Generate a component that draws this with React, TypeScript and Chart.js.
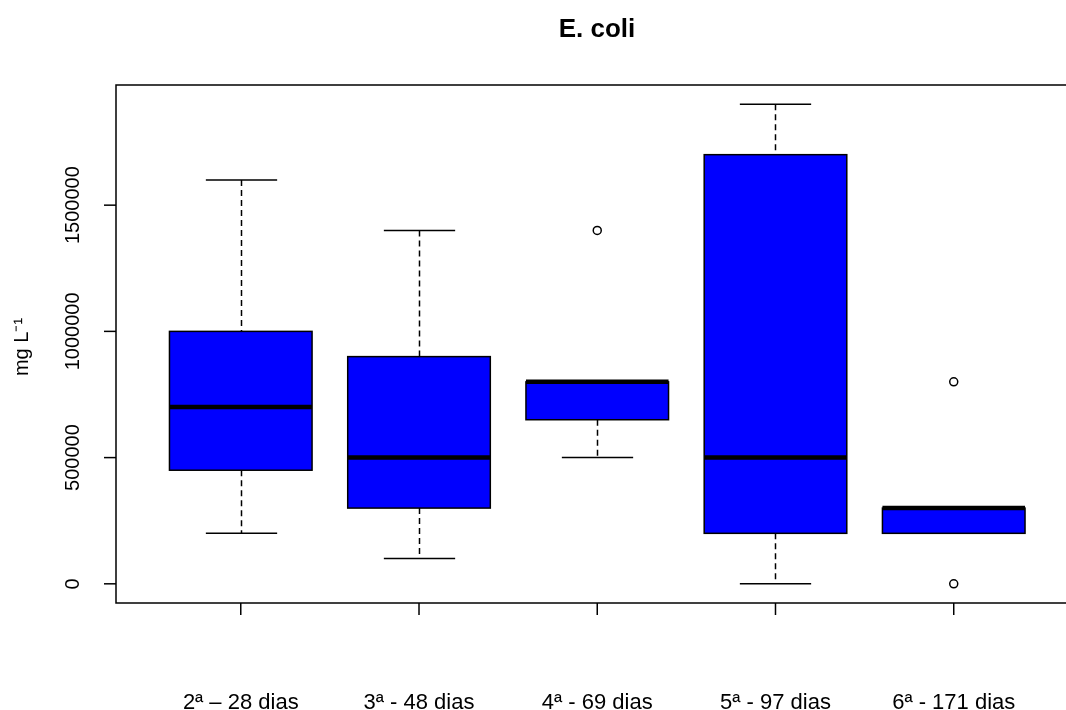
import React, { useEffect, useRef } from 'react';
import { Chart, registerables } from 'chart.js';

Chart.register(...registerables);

const FONT = '"Liberation Sans", Arial, Helvetica, sans-serif';

// ---- data ----
const categories = ['2ª – 28 dias', '3ª - 48 dias', '4ª - 69 dias', '5ª - 97 dias', '6ª - 171 dias'];
const whiskerLow = [200000, 100000, 500000, 0, 200000];
const q1 = [450000, 300000, 650000, 200000, 200000];
const median = [700000, 500000, 800000, 500000, 300000];
const q3 = [1000000, 900000, 800000, 1700000, 300000];
const whiskerHigh = [1600000, 1400000, 800000, 1900000, 300000];
const outlierGroup = [3, 5, 5];
const outlierValues = [1400000, 800000, 0];
const yTicks = [0, 500000, 1000000, 1500000];
const titleText = 'E. coli';
const yLabel = 'mg L⁻¹';

const rBoxPlugin = {
  id: 'rBoxParts',
  beforeDatasetsDraw(chart: any) {
    const { ctx, scales } = chart;
    const x = scales.x;
    const y = scales.y;
    ctx.save();
    ctx.strokeStyle = '#000';
    ctx.lineWidth = 1.5;
    categories.forEach((_, i) => {
      const cx = Math.round(x.getPixelForValue(i + 1)) + 0.5;
      const half = x.getPixelForValue(i + 1.2) - x.getPixelForValue(i + 1);
      ctx.setLineDash([6, 4]);
      ctx.beginPath();
      ctx.moveTo(cx, y.getPixelForValue(whiskerHigh[i]));
      ctx.lineTo(cx, y.getPixelForValue(q3[i]));
      ctx.moveTo(cx, y.getPixelForValue(q1[i]));
      ctx.lineTo(cx, y.getPixelForValue(whiskerLow[i]));
      ctx.stroke();
      ctx.setLineDash([]);
      ctx.beginPath();
      const yh = y.getPixelForValue(whiskerHigh[i]);
      const yl = y.getPixelForValue(whiskerLow[i]);
      ctx.moveTo(cx - half, yh);
      ctx.lineTo(cx + half, yh);
      ctx.moveTo(cx - half, yl);
      ctx.lineTo(cx + half, yl);
      ctx.stroke();
    });
    ctx.restore();
  },
  afterDatasetsDraw(chart: any) {
    const { ctx, scales } = chart;
    const y = scales.y;
    const meta = chart.getDatasetMeta(0);
    ctx.save();
    ctx.strokeStyle = '#000';
    meta.data.forEach((el: any, i: number) => {
      const l = el.x - el.width / 2;
      const r = el.x + el.width / 2;
      const t = Math.min(el.y, el.base);
      const b = Math.max(el.y, el.base);
      ctx.lineWidth = 1.5;
      ctx.strokeRect(l, t, r - l, b - t);
      const my = y.getPixelForValue(median[i]);
      ctx.lineWidth = 4.5;
      ctx.beginPath();
      ctx.moveTo(l, my);
      ctx.lineTo(r, my);
      ctx.stroke();
    });
    ctx.restore();
  },
  afterDraw(chart: any) {
    const { ctx, scales, chartArea } = chart;
    const x = scales.x;
    const y = scales.y;
    const { left, right, top, bottom } = chartArea;
    ctx.save();
    ctx.strokeStyle = '#000';
    ctx.lineWidth = 1.5;
    ctx.strokeRect(left, top, right - left, bottom - top);

    // y axis ticks + labels
    ctx.fillStyle = '#000';
    ctx.font = `20px ${FONT}`;
    yTicks.forEach((v) => {
      const py = y.getPixelForValue(v);
      ctx.beginPath();
      ctx.moveTo(left - 12, py);
      ctx.lineTo(left, py);
      ctx.stroke();
      ctx.save();
      ctx.translate(73, py);
      ctx.rotate(-Math.PI / 2);
      ctx.textAlign = 'center';
      ctx.textBaseline = 'middle';
      ctx.fillText(String(v), 0, 0);
      ctx.restore();
    });

    // x axis ticks + labels
    ctx.font = `22px ${FONT}`;
    ctx.textAlign = 'center';
    ctx.textBaseline = 'alphabetic';
    categories.forEach((c, i) => {
      const px = x.getPixelForValue(i + 1);
      ctx.beginPath();
      ctx.moveTo(px, bottom);
      ctx.lineTo(px, bottom + 12);
      ctx.stroke();
      ctx.fillText(c, px, 709);
    });

    // y label
    ctx.save();
    ctx.translate(22, 347);
    ctx.rotate(-Math.PI / 2);
    ctx.font = `20px ${FONT}`;
    ctx.textAlign = 'center';
    ctx.textBaseline = 'middle';
    ctx.fillText(yLabel, 0, 0);
    ctx.restore();

    // title
    ctx.font = `bold 26px ${FONT}`;
    ctx.textAlign = 'center';
    ctx.textBaseline = 'middle';
    ctx.fillText(titleText, 597, 30);
    ctx.restore();
  },
};

export default function App() {
  const ref = useRef<HTMLCanvasElement>(null);
  useEffect(() => {
    if (!ref.current) return;
    const chart = new Chart(ref.current, {
      type: 'bar',
      data: {
        datasets: [
          {
            type: 'bar',
            data: categories.map((_, i) => ({ x: i + 1, y: [q1[i], q3[i]] })) as any,
            backgroundColor: '#0000ff',
            borderWidth: 0,
            barPercentage: 0.8,
            categoryPercentage: 1,
          } as any,
          {
            type: 'scatter',
            data: outlierGroup.map((g, i) => ({ x: g, y: outlierValues[i] })),
            pointRadius: 4,
            pointBorderWidth: 1.5,
            pointBorderColor: '#000',
            pointBackgroundColor: 'rgba(0,0,0,0)',
            showLine: false,
          } as any,
        ],
      },
      options: {
        responsive: false,
        animation: false,
        events: [],
        layout: { padding: { left: 116, top: 85, right: 1, bottom: 107 } },
        plugins: {
          legend: { display: false },
          tooltip: { enabled: false },
          title: { display: false },
        },
        scales: {
          x: {
            type: 'linear',
            min: 0.3,
            max: 5.7,
            offset: false,
            display: false,
            ticks: { stepSize: 1, includeBounds: false },
          },
          y: {
            type: 'linear',
            min: -76000,
            max: 1976000,
            display: false,
          },
        },
      } as any,
      plugins: [rBoxPlugin],
    });
    return () => chart.destroy();
  }, []);

  return (
    <div style={{ position: 'fixed', left: 0, top: 0, width: 1066, height: 710, overflow: 'hidden', background: '#fff' }}>
      <canvas ref={ref} width={1084} height={710} style={{ display: 'block' }} />
    </div>
  );
}
